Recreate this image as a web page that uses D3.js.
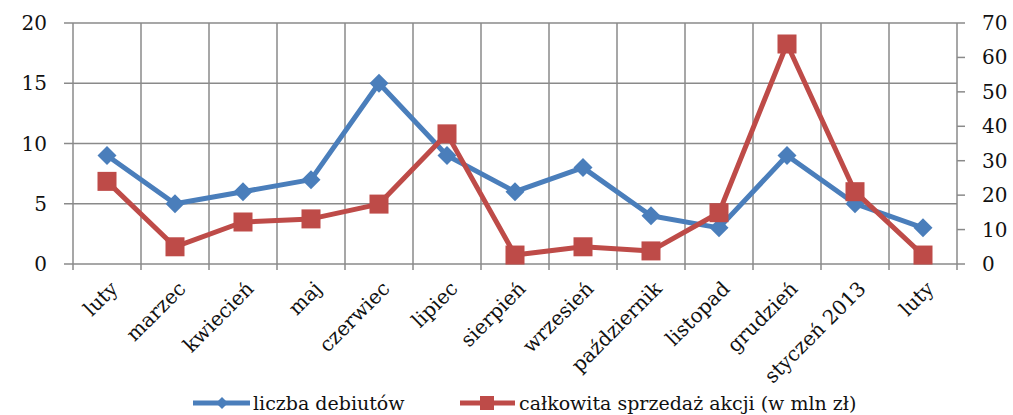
<!DOCTYPE html>
<html><head><meta charset="utf-8">
<script src="https://cdn.jsdelivr.net/npm/d3@7"></script>
<style>
body{margin:0;background:#fff}
svg text{font-family:"DejaVu Serif",serif;fill:#111;font-size:20px}
</style>
</head><body><svg id="c" width="1013" height="415"></svg>
<script>
const categories = ["luty","marzec","kwiecień","maj","czerwiec","lipiec","sierpień","wrzesień","październik","listopad","grudzień","styczeń 2013","luty"];
const debiuty = [9,5,6,7,15,9,6,8,4,3,9,5,3];
const sprzedaz = [24,5,12.2,13.1,17.4,37.8,2.6,5,3.8,14.9,63.9,21,2.6];
const leftTicks = [0,5,10,15,20];
const rightTicks = [0,10,20,30,40,50,60,70];
const seriesNames = ["liczba debiutów","całkowita sprzedaż akcji (w mln zł)"];

const svg = d3.select("#c");
const L = 73, R = 957, T = 23, B = 264;
const blue = "#4A7EBB", red = "#BE4B48", grid = "#8a8a8a";

const x = d3.scaleBand().domain(d3.range(categories.length)).range([L, R]).padding(0);
const yL = d3.scaleLinear().domain([0, 20]).range([B, T]);
const yR = d3.scaleLinear().domain([0, 70]).range([B, T]);
const cx = i => x(i) + x.bandwidth() / 2;
const diamond = r => `M0,${-r}L${r},0L0,${r}L${-r},0Z`;

// horizontal gridlines + left ticks
svg.append("g").selectAll("line").data(leftTicks).join("line")
  .attr("x1", L - 9).attr("x2", R).attr("y1", d => yL(d)).attr("y2", d => yL(d))
  .attr("stroke", grid).attr("stroke-width", 1.5);
// vertical gridlines (category boundaries) extending as ticks
const bounds = d3.range(categories.length + 1).map(i => L + i * x.bandwidth());
svg.append("g").selectAll("line").data(bounds).join("line")
  .attr("x1", d => d).attr("x2", d => d).attr("y1", T).attr("y2", B + 6)
  .attr("stroke", grid).attr("stroke-width", 1.5);
// right axis ticks
svg.append("g").selectAll("line").data(rightTicks).join("line")
  .attr("x1", R).attr("x2", R + 8).attr("y1", d => yR(d)).attr("y2", d => yR(d))
  .attr("stroke", grid).attr("stroke-width", 1.5);

// tick labels
svg.append("g").selectAll("text").data(leftTicks).join("text")
  .attr("x", 47).attr("y", d => yL(d)).attr("dy", "0.35em")
  .attr("text-anchor", "end").text(d => d);
svg.append("g").selectAll("text").data(rightTicks).join("text")
  .attr("x", 982).attr("y", d => yR(d)).attr("dy", "0.35em")
  .attr("text-anchor", "start").text(d => d);

// category labels
svg.append("g").selectAll("text").data(categories).join("text")
  .attr("text-anchor", "end").attr("dy", "0.35em")
  .attr("transform", (d, i) => `translate(${cx(i) + 7},${285}) rotate(-45)`)
  .text(d => d);

// lines
const lineL = d3.line().x((d, i) => cx(i)).y(d => yL(d));
const lineR = d3.line().x((d, i) => cx(i)).y(d => yR(d));
svg.append("path").datum(debiuty).attr("d", lineL).attr("fill", "none")
  .attr("stroke", blue).attr("stroke-width", 5).attr("stroke-linejoin", "round");
svg.append("g").selectAll("path").data(debiuty).join("path")
  .attr("d", diamond(9.5))
  .attr("transform", (d, i) => `translate(${cx(i)},${yL(d)})`)
  .attr("fill", blue);

svg.append("path").datum(sprzedaz).attr("d", lineR).attr("fill", "none")
  .attr("stroke", red).attr("stroke-width", 5).attr("stroke-linejoin", "round");
svg.append("g").selectAll("rect").data(sprzedaz).join("rect")
  .attr("x", (d, i) => cx(i) - 9.5).attr("y", d => yR(d) - 9.5)
  .attr("width", 19).attr("height", 19).attr("fill", red);

// legend
const ly = 403;
const lg = svg.append("g").style("font-size", "19px");
lg.append("line").attr("x1", 193).attr("x2", 250).attr("y1", ly).attr("y2", ly)
  .attr("stroke", blue).attr("stroke-width", 5);
lg.append("path").attr("d", diamond(6)).attr("transform", `translate(222,${ly})`).attr("fill", blue);
lg.append("text").attr("x", 253).attr("y", ly).attr("dy", "0.35em").style("font-size", "19px").text(seriesNames[0]);
lg.append("line").attr("x1", 460).attr("x2", 515).attr("y1", ly).attr("y2", ly)
  .attr("stroke", red).attr("stroke-width", 5);
lg.append("rect").attr("x", 487 - 7).attr("y", ly - 7).attr("width", 14).attr("height", 14).attr("fill", red);
lg.append("text").attr("x", 519).attr("y", ly).attr("dy", "0.35em").style("font-size", "19px").text(seriesNames[1]);
</script>
</body></html>
